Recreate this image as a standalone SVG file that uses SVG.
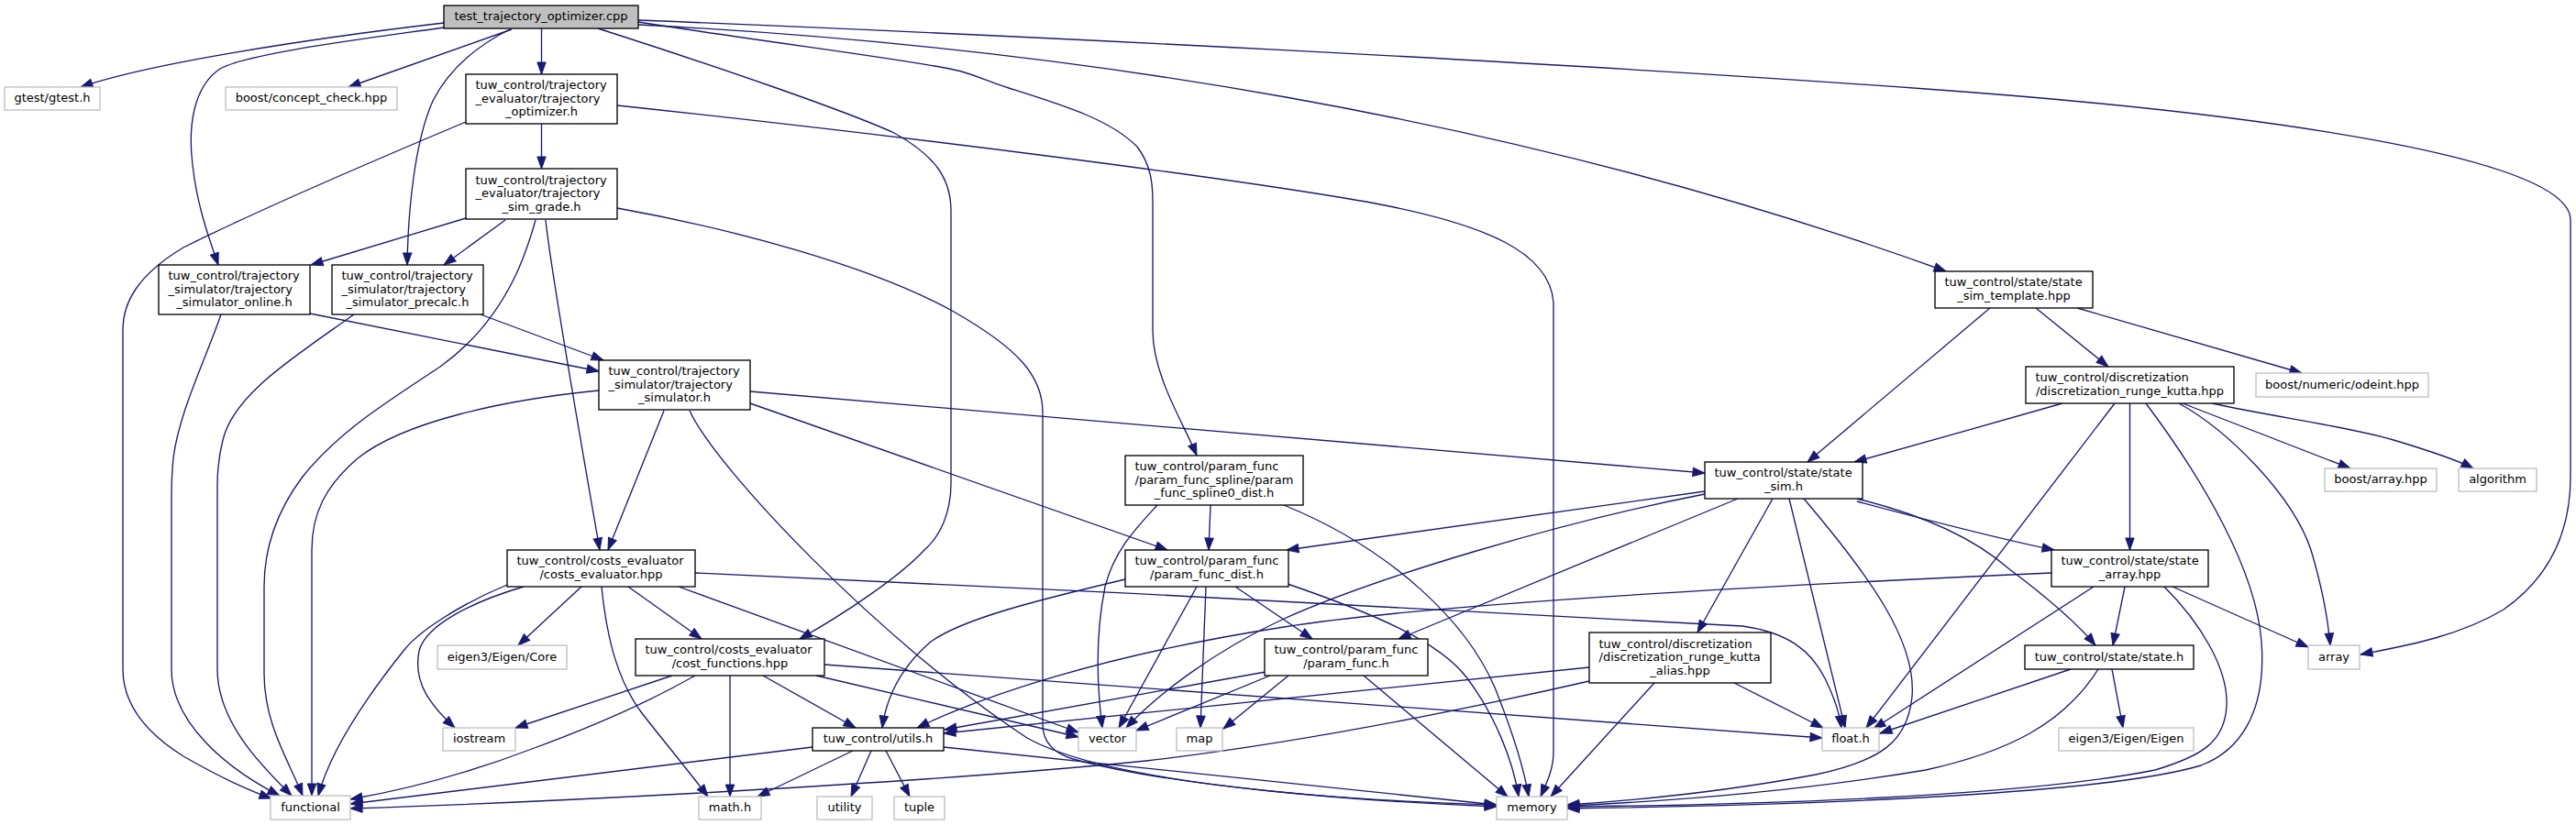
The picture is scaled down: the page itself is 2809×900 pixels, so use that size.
<svg xmlns="http://www.w3.org/2000/svg" width="2809" height="900" viewBox="0 0 2809 900">
<style>
rect{fill:#fff;stroke:#000;stroke-width:1.33}
.sys rect{stroke:#bfbfbf}
.root rect{fill:#bfbfbf}
text{font-family:"DejaVu Sans",sans-serif;font-size:13px;fill:#000}
.c{text-anchor:middle}
.l{text-anchor:start}
#edges path{fill:none;stroke:#191970;stroke-width:1.33;marker-end:url(#a)}
</style>
<defs>
<marker id="a" markerUnits="userSpaceOnUse" markerWidth="13" markerHeight="9.4" viewBox="0 0 13 9.4" refX="13" refY="4.7" orient="auto" style="overflow:visible"><path d="M0,0L13,4.7L0,9.4z" fill="#191970" stroke="#191970" stroke-width="1"/></marker>
</defs>
<rect x="0" y="0" width="2809" height="900" style="fill:#fff;stroke:none"/>
<g id="edges">
<path d="M484,25 C330,43 160,70 88,95"/>
<path d="M484,30 C400,42 270,58 240,75 C210,95 205,140 210,180 C215,225 228,260 238,289"/>
<path d="M558,32 L380,95"/>
<path d="M556,32 C520,50 490,75 472,110 C452,155 445,230 444,289"/>
<path d="M590.5,31 L590.5,81"/>
<path d="M652,31 C780,72 920,120 975,145 C1020,170 1037,195 1037,230 L1037,527 C1037,560 1025,585 1008,600 C980,630 920,670 872,697"/>
<path d="M696,24 C850,48 990,65 1040,76 C1060,80 1075,88 1100,96 C1160,115 1210,130 1240,160 C1255,180 1257,200 1257,220 L1257,360 C1257,410 1290,460 1305,497"/>
<path d="M696,22 C1100,38 1700,68 2100,97 C2450,122 2803,170 2803,240 L2803,520 C2803,580 2780,630 2730,665 C2680,695 2620,705 2574,714"/>
<path d="M696,27 C1150,50 1650,125 2122,296"/>
<path d="M590.5,135 L590.5,184"/>
<path d="M508,133 C420,170 280,230 200,270 C150,300 134,330 134,360 L134,730 C134,770 160,800 200,825 C240,848 270,862 296,871"/>
<path d="M673,115 C1000,150 1350,195 1500,222 C1620,245 1690,275 1694,330 L1694,820 C1694,840 1686,855 1680,869"/>
<path d="M508,238 L339,289"/>
<path d="M551,240 L484,289"/>
<path d="M584,240 C577,265 570,285 560,305 C540,345 515,375 480,400 C420,440 370,470 330,520 C300,560 288,600 288,640 L288,735 C288,790 315,830 330,868"/>
<path d="M595,240 C600,290 640,520 654,600"/>
<path d="M673,227 C800,250 950,290 1040,340 C1110,380 1137,410 1137,450 L1137,790 C1137,810 1150,822 1170,828 C1280,858 1480,874 1632,880"/>
<path d="M338,342 L653,405"/>
<path d="M241,343 C225,390 195,450 189,500 C187,520 187,530 187,540 L187,730 C187,790 250,840 305,868"/>
<path d="M524,343 L658,393"/>
<path d="M386,343 C320,390 255,430 243,480 C238,500 237,515 237,530 L237,730 C237,790 290,840 318,868"/>
<path d="M653,426 C550,436 440,460 390,500 C355,530 340,560 340,600 L340,868"/>
<path d="M818,427 L1859,516"/>
<path d="M818,440 L1273,600"/>
<path d="M724,448 L663,600"/>
<path d="M752,448 C780,510 960,700 1120,805 C1200,850 1420,872 1632,878"/>
<path d="M1320,551 L1318,600"/>
<path d="M1262,551 C1240,575 1215,600 1205,640 C1195,690 1195,740 1202,794"/>
<path d="M1400,551 C1520,600 1600,680 1630,750 C1650,800 1662,840 1667,869"/>
<path d="M1859,536 L1403,600"/>
<path d="M1859,539 C1700,570 1500,630 1400,675 C1320,712 1260,760 1228,794"/>
<path d="M1895,544 L1525,697"/>
<path d="M1933,544 L1851,690"/>
<path d="M1951,544 L2012,794"/>
<path d="M1967,544 C2040,630 2090,700 2085,760 C2080,810 2050,830 1980,845 C1900,860 1800,872 1709,878"/>
<path d="M2025,544 C2090,560 2150,585 2190,620 C2230,650 2265,680 2285,704"/>
<path d="M2025,547 C2100,567 2180,588 2240,600"/>
<path d="M2170,336 L1971,504"/>
<path d="M2220,336 L2299,400"/>
<path d="M2265,336 L2510,407"/>
<path d="M2249,440 C2180,460 2090,485 2022,504"/>
<path d="M2306,440 L2035,794"/>
<path d="M2322.5,440 L2322.5,600"/>
<path d="M2340,440 C2400,520 2460,620 2466,700 C2472,780 2440,820 2400,835 C2300,865 2000,878 1709,882"/>
<path d="M2376,440 C2430,470 2500,540 2520,600 C2532,640 2538,670 2541,704"/>
<path d="M2380,440 L2563,511"/>
<path d="M2412,440 C2480,455 2560,465 2610,480 C2650,492 2680,502 2697,511"/>
<path d="M685,640 L765,697"/>
<path d="M634,640 L565,704"/>
<path d="M571,640 C520,655 465,680 457,710 C450,745 470,770 496,794"/>
<path d="M553,638 C500,660 455,690 440,710 C400,760 360,820 347,868"/>
<path d="M656,640 C662,700 675,745 700,778 C725,810 750,840 772,869"/>
<path d="M740,640 L1176,799"/>
<path d="M758,625 C1100,640 1700,670 1900,683 C1950,690 1975,710 1990,740 C2000,760 2006,780 2008,794"/>
<path d="M733,737 L562,794"/>
<path d="M758,737 C700,770 640,795 580,817 C520,840 450,860 382,872"/>
<path d="M796,737 L796,869"/>
<path d="M832,737 L933,794"/>
<path d="M890,737 L1176,804"/>
<path d="M899,725 L1987,805"/>
<path d="M930,819 L826,869"/>
<path d="M950,819 L928,869"/>
<path d="M966,819 L992,869"/>
<path d="M1029,815 L1632,878"/>
<path d="M886,815 L382,877"/>
<path d="M1227,632 C1130,655 1050,675 1015,700 C980,730 966,765 962,794"/>
<path d="M1305,640 L1220,794"/>
<path d="M1315,640 L1309,794"/>
<path d="M1347,640 L1431,697"/>
<path d="M1404,637 C1500,670 1570,700 1600,740 C1630,780 1650,830 1656,869"/>
<path d="M1380,733 L1030,796"/>
<path d="M1385,737 L1239,797"/>
<path d="M1405,737 L1334,795"/>
<path d="M1487,737 L1644,869"/>
<path d="M2237,625 C1900,640 1550,660 1400,684 C1200,715 1070,760 1000,794"/>
<path d="M2317,640 L2304,704"/>
<path d="M2283,640 L2043,795"/>
<path d="M2369,640 L2517,706"/>
<path d="M2360,640 C2400,680 2430,730 2428,770 C2426,810 2400,825 2350,840 C2200,870 1900,878 1709,880"/>
<path d="M2303,730 L2315,794"/>
<path d="M2258,730 L2050,800"/>
<path d="M2288,730 C2250,790 2190,820 2100,840 C1950,865 1800,875 1709,879"/>
<path d="M1733,728 L1029,800"/>
<path d="M1733,743 C1580,778 1420,810 1250,830 C1000,855 600,875 382,882"/>
<path d="M1891,745 L1988,794"/>
<path d="M1804,745 L1691,869"/>
</g>
<g id="root" class="root"><rect x="484" y="6" width="212" height="25"/><text class="c" x="590" y="22">test_trajectory_optimizer.cpp</text></g>
<g id="gtest" class="sys"><rect x="5" y="95" width="104" height="25"/><text class="c" x="57" y="111">gtest/gtest.h</text></g>
<g id="concept_check" class="sys"><rect x="246" y="95" width="187" height="25"/><text class="c" x="339.5" y="111">boost/concept_check.hpp</text></g>
<g id="trajectory_optimizer"><rect x="508" y="81" width="165" height="54"/><text class="l" x="518.5" y="97">tuw_control/trajectory</text><text class="l" x="518.5" y="111.5">_evaluator/trajectory</text><text class="c" x="590.5" y="126">_optimizer.h</text></g>
<g id="trajectory_sim_grade"><rect x="508" y="184" width="165" height="55"/><text class="l" x="518.5" y="200.5">tuw_control/trajectory</text><text class="l" x="518.5" y="215">_evaluator/trajectory</text><text class="c" x="590.5" y="229.5">_sim_grade.h</text></g>
<g id="trajectory_simulator_online"><rect x="173" y="289" width="165" height="54"/><text class="l" x="183.5" y="305">tuw_control/trajectory</text><text class="l" x="183.5" y="319.5">_simulator/trajectory</text><text class="c" x="255.5" y="334">_simulator_online.h</text></g>
<g id="trajectory_simulator_precalc"><rect x="362" y="289" width="165" height="54"/><text class="l" x="372.5" y="305">tuw_control/trajectory</text><text class="l" x="372.5" y="319.5">_simulator/trajectory</text><text class="c" x="444.5" y="334">_simulator_precalc.h</text></g>
<g id="trajectory_simulator"><rect x="653" y="393" width="165" height="54"/><text class="l" x="663.5" y="409">tuw_control/trajectory</text><text class="l" x="663.5" y="423.5">_simulator/trajectory</text><text class="c" x="735.5" y="438">_simulator.h</text></g>
<g id="param_func_spline0_dist"><rect x="1227" y="497" width="194" height="54"/><text class="l" x="1237.5" y="513">tuw_control/param_func</text><text class="l" x="1237.5" y="527.5">/param_func_spline/param</text><text class="c" x="1324" y="542">_func_spline0_dist.h</text></g>
<g id="state_sim"><rect x="1859" y="504" width="172" height="40"/><text class="l" x="1869.5" y="520.25">tuw_control/state/state</text><text class="c" x="1945" y="534.75">_sim.h</text></g>
<g id="state_sim_template"><rect x="2110" y="296" width="172" height="40"/><text class="l" x="2120.5" y="312.25">tuw_control/state/state</text><text class="c" x="2196" y="326.75">_sim_template.hpp</text></g>
<g id="discretization_runge_kutta"><rect x="2209" y="400" width="227" height="40"/><text class="l" x="2219.5" y="416.25">tuw_control/discretization</text><text class="c" x="2322.5" y="430.75">/discretization_runge_kutta.hpp</text></g>
<g id="odeint" class="sys"><rect x="2460" y="407" width="188" height="26"/><text class="c" x="2554" y="423.5">boost/numeric/odeint.hpp</text></g>
<g id="boost_array" class="sys"><rect x="2535" y="511" width="122" height="25"/><text class="c" x="2596" y="527">boost/array.hpp</text></g>
<g id="algorithm" class="sys"><rect x="2681" y="511" width="85" height="25"/><text class="c" x="2723.5" y="527">algorithm</text></g>
<g id="costs_evaluator"><rect x="553" y="600" width="205" height="40"/><text class="l" x="563.5" y="616.25">tuw_control/costs_evaluator</text><text class="c" x="655.5" y="630.75">/costs_evaluator.hpp</text></g>
<g id="cost_functions"><rect x="693" y="697" width="206" height="40"/><text class="l" x="703.5" y="713.25">tuw_control/costs_evaluator</text><text class="c" x="796" y="727.75">/cost_functions.hpp</text></g>
<g id="eigen_core" class="sys"><rect x="477" y="704" width="141" height="26"/><text class="c" x="547.5" y="720.5">eigen3/Eigen/Core</text></g>
<g id="iostream" class="sys"><rect x="483" y="794" width="79" height="25"/><text class="c" x="522.5" y="810">iostream</text></g>
<g id="functional" class="sys"><rect x="295" y="868" width="87" height="26"/><text class="c" x="338.5" y="884.5">functional</text></g>
<g id="param_func_dist"><rect x="1227" y="600" width="178" height="40"/><text class="l" x="1237.5" y="616.25">tuw_control/param_func</text><text class="c" x="1316" y="630.75">/param_func_dist.h</text></g>
<g id="param_func"><rect x="1379" y="697" width="178" height="40"/><text class="l" x="1389.5" y="713.25">tuw_control/param_func</text><text class="c" x="1468" y="727.75">/param_func.h</text></g>
<g id="discretization_runge_kutta_alias"><rect x="1733" y="690" width="198" height="55"/><text class="l" x="1743.5" y="706.5">tuw_control/discretization</text><text class="l" x="1743.5" y="721">/discretization_runge_kutta</text><text class="c" x="1832" y="735.5">_alias.hpp</text></g>
<g id="utils"><rect x="886" y="794" width="143" height="25"/><text class="c" x="957.5" y="810">tuw_control/utils.h</text></g>
<g id="vector" class="sys"><rect x="1176" y="794" width="63" height="25"/><text class="c" x="1207.5" y="810">vector</text></g>
<g id="map" class="sys"><rect x="1283" y="794" width="50" height="25"/><text class="c" x="1308" y="810">map</text></g>
<g id="math_h" class="sys"><rect x="762" y="869" width="68" height="25"/><text class="c" x="796" y="885">math.h</text></g>
<g id="utility" class="sys"><rect x="891" y="869" width="60" height="25"/><text class="c" x="921" y="885">utility</text></g>
<g id="tuple" class="sys"><rect x="975" y="869" width="55" height="25"/><text class="c" x="1002.5" y="885">tuple</text></g>
<g id="float_h" class="sys"><rect x="1987" y="794" width="62" height="25"/><text class="c" x="2018" y="810">float.h</text></g>
<g id="memory" class="sys"><rect x="1632" y="869" width="77" height="25"/><text class="c" x="1670.5" y="885">memory</text></g>
<g id="state_array"><rect x="2237" y="600" width="171" height="40"/><text class="l" x="2247.5" y="616.25">tuw_control/state/state</text><text class="c" x="2322.5" y="630.75">_array.hpp</text></g>
<g id="state_h"><rect x="2208" y="704" width="184" height="26"/><text class="c" x="2300" y="720.5">tuw_control/state/state.h</text></g>
<g id="eigen" class="sys"><rect x="2245" y="794" width="147" height="25"/><text class="c" x="2318.5" y="810">eigen3/Eigen/Eigen</text></g>
<g id="array" class="sys"><rect x="2517" y="704" width="56" height="26"/><text class="c" x="2545" y="720.5">array</text></g>
</svg>
